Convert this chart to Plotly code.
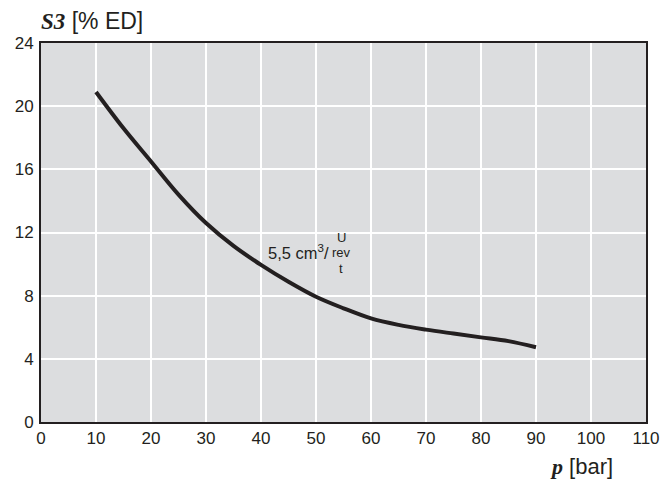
import plotly.graph_objects as go

# Data
pressure_bar = [10, 15, 20, 25, 30, 35, 40, 45, 50, 55, 60, 65, 70, 75, 80, 85, 90]
s3_percent_ed = [20.9, 18.6, 16.5, 14.4, 12.6, 11.15, 9.95, 8.88, 7.93, 7.2, 6.56, 6.15, 5.85, 5.6, 5.36, 5.12, 4.73]

x_ticks = [0, 10, 20, 30, 40, 50, 60, 70, 80, 90, 100, 110]
y_ticks = [0, 4, 8, 12, 16, 20, 24]

INK = "#231f20"
SANS = "Liberation Sans, Arial, sans-serif"
SERIF = "Liberation Serif, Times New Roman, serif"

fig = go.Figure()
fig.add_trace(go.Scatter(
    x=pressure_bar, y=s3_percent_ed, mode="lines",
    line=dict(color=INK, width=4, shape="spline", smoothing=1.0),
    showlegend=False, hoverinfo="x+y",
))

fig.update_layout(
    width=663, height=483,
    margin=dict(l=41, r=17, t=43, b=61, autoexpand=False),
    paper_bgcolor="white", plot_bgcolor="#dcdddf",
    font=dict(family=SANS, size=17, color=INK),
    xaxis=dict(range=[0, 110], tickvals=x_ticks, ticktext=[str(v) for v in x_ticks],
               showgrid=True, gridcolor="white", gridwidth=1.5, zeroline=False,
               showline=True, mirror=True, linecolor=INK, linewidth=2,
               ticks="", automargin=False, fixedrange=True),
    yaxis=dict(range=[0, 24], tickvals=y_ticks, ticktext=[str(v) for v in y_ticks],
               showgrid=True, gridcolor="white", gridwidth=1.5, zeroline=False,
               showline=True, mirror=True, linecolor=INK, linewidth=2,
               ticks="", automargin=False, fixedrange=True, ticklabelstandoff=2),
)

annotations = [
    dict(xref="paper", yref="paper", x=-0.003, y=1.0, xanchor="left", yanchor="bottom", yshift=7,
         text=f"<span style='font-family:{SERIF}'><b><i>S3</i></b></span> [% ED]",
         showarrow=False, font=dict(size=23, color=INK, family=SANS)),
    dict(xref="paper", yref="paper", x=0.894, y=0, xanchor="center", yanchor="top", yshift=-30,
         text=f"<span style='font-family:{SERIF}'><b><i>p</i></b></span> [bar]",
         showarrow=False, font=dict(size=22, color=INK, family=SANS)),
    dict(xref="x", yref="y", x=40.9, y=10.75, xanchor="left", yanchor="middle",
         text="5,5 cm<sup>3</sup>/", showarrow=False, font=dict(size=16.5, color=INK, family=SANS)),
    dict(xref="x", yref="y", x=54.6, y=11.7, xanchor="center", yanchor="middle",
         text="U", showarrow=False, font=dict(size=13, color=INK, family=SANS)),
    dict(xref="x", yref="y", x=54.6, y=10.72, xanchor="center", yanchor="middle",
         text="rev", showarrow=False, font=dict(size=13, color=INK, family=SANS)),
    dict(xref="x", yref="y", x=54.6, y=9.75, xanchor="center", yanchor="middle",
         text="t", showarrow=False, font=dict(size=13, color=INK, family=SANS)),
]
fig.update_layout(annotations=annotations)

# remove the default 8px page margin so the 663x483 figure fills the window exactly
fig.write_html("out.html",
               config={"displayModeBar": False},
               post_script="document.body.style.margin='0';document.body.style.overflow='hidden';")
